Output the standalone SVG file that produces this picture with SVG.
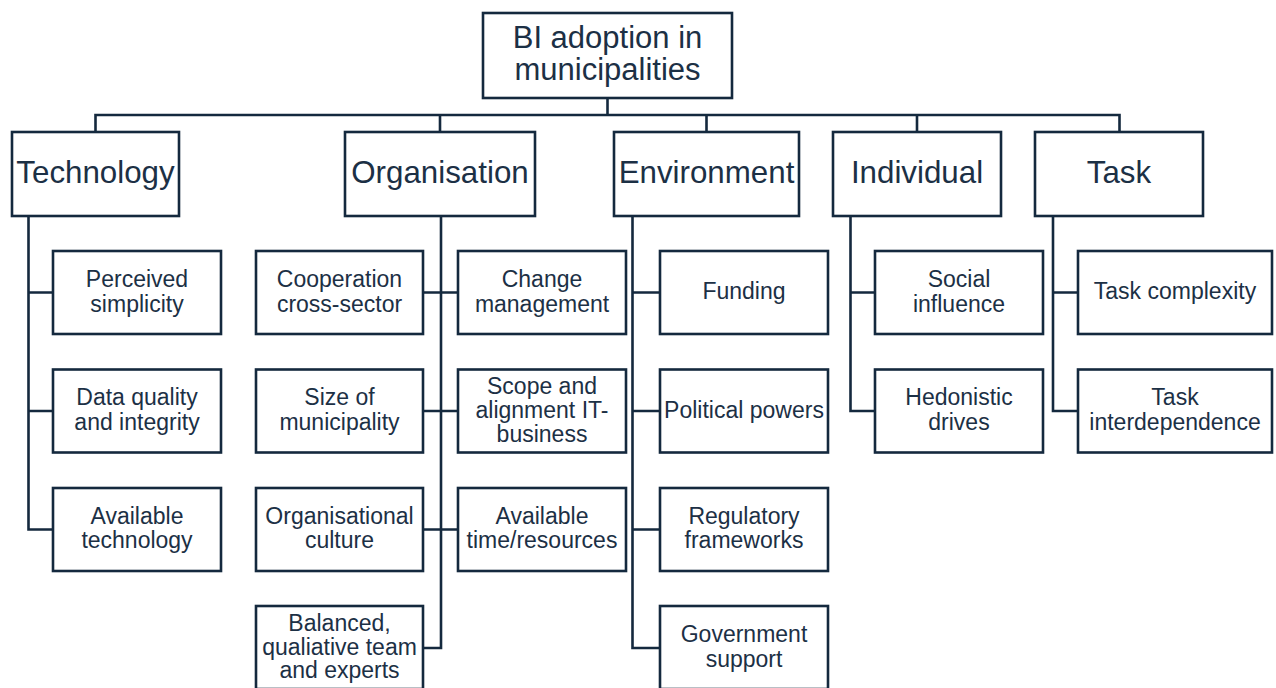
<svg xmlns="http://www.w3.org/2000/svg" width="1276" height="688" viewBox="0 0 1276 688">
  <style>
    .box { fill: #ffffff; stroke: #14293e; stroke-width: 2.6; }
    .link { fill: none; stroke: #14293e; stroke-width: 2.6; stroke-linejoin: miter; }
    text { font-family: "Liberation Sans", Arial, sans-serif; fill: #1c3045; text-anchor: middle; }
    .root { font-size: 31px; }
    .cat { font-size: 31.3px; }
    .leaf { font-size: 23px; }
  </style>
  <rect width="1276" height="688" fill="#ffffff"/>

  <!-- connectors -->
  <g id="connectors">
    <!-- root to bus -->
    <path class="link" d="M607.5,98 V115"/>
    <path class="link" d="M95.5,132 V115 H1119.5 V132"/>
    <path class="link" d="M440,115 V132 M706.5,115 V132 M917,115 V132"/>
    <!-- Technology column -->
    <path class="link" d="M28.5,216 V529.5 H53 M28.5,292.5 H53 M28.5,411 H53"/>
    <!-- Organisation column -->
    <path class="link" d="M441,216 V648 H423 M423,292.5 H458 M423,411 H458 M423,529.5 H458"/>
    <!-- Environment column -->
    <path class="link" d="M632.5,216 V648 H660 M632.5,292.5 H660 M632.5,411 H660 M632.5,529.5 H660"/>
    <!-- Individual column -->
    <path class="link" d="M850.5,216 V411 H875 M850.5,292.5 H875"/>
    <!-- Task column -->
    <path class="link" d="M1053,216 V411 H1078 M1053,292.5 H1078"/>
  </g>

  <!-- root -->
  <g id="root">
    <rect class="box" x="483" y="13" width="249" height="85"/>
    <text class="root" x="607.5" y="48">BI adoption in</text>
    <text class="root" x="607.5" y="80">municipalities</text>
  </g>

  <!-- categories -->
  <g id="technology">
    <rect class="box" x="12" y="132" width="167" height="84"/>
    <text class="cat" x="95.5" y="183">Technology</text>
  </g>
  <g id="organisation">
    <rect class="box" x="345" y="132" width="190" height="84"/>
    <text class="cat" x="440" y="183">Organisation</text>
  </g>
  <g id="environment">
    <rect class="box" x="614" y="132" width="185" height="84"/>
    <text class="cat" x="706.5" y="183">Environment</text>
  </g>
  <g id="individual">
    <rect class="box" x="833" y="132" width="168" height="84"/>
    <text class="cat" x="917" y="183">Individual</text>
  </g>
  <g id="task">
    <rect class="box" x="1035" y="132" width="168" height="84"/>
    <text class="cat" x="1119" y="183">Task</text>
  </g>

  <!-- Technology factors -->
  <g id="perceived-simplicity">
    <rect class="box" x="53" y="251" width="168" height="83"/>
    <text class="leaf" x="137" y="287">Perceived</text>
    <text class="leaf" x="137" y="311.5">simplicity</text>
  </g>
  <g id="data-quality">
    <rect class="box" x="53" y="369.5" width="168" height="83"/>
    <text class="leaf" x="137" y="405">Data quality</text>
    <text class="leaf" x="137" y="429.5">and integrity</text>
  </g>
  <g id="available-technology">
    <rect class="box" x="53" y="488" width="168" height="83"/>
    <text class="leaf" x="137" y="523.5">Available</text>
    <text class="leaf" x="137" y="548">technology</text>
  </g>

  <!-- Organisation factors -->
  <g id="cooperation">
    <rect class="box" x="256" y="251" width="167" height="83"/>
    <text class="leaf" x="339.5" y="287">Cooperation</text>
    <text class="leaf" x="339.5" y="311.5">cross-sector</text>
  </g>
  <g id="change-management">
    <rect class="box" x="458" y="251" width="168" height="83"/>
    <text class="leaf" x="542" y="287">Change</text>
    <text class="leaf" x="542" y="311.5">management</text>
  </g>
  <g id="size-of-municipality">
    <rect class="box" x="256" y="369.5" width="167" height="83"/>
    <text class="leaf" x="339.5" y="405">Size of</text>
    <text class="leaf" x="339.5" y="429.5">municipality</text>
  </g>
  <g id="scope-alignment">
    <rect class="box" x="458" y="369.5" width="168" height="83"/>
    <text class="leaf" x="542" y="394">Scope and</text>
    <text class="leaf" x="542" y="418">alignment IT-</text>
    <text class="leaf" x="542" y="441.5">business</text>
  </g>
  <g id="organisational-culture">
    <rect class="box" x="256" y="488" width="167" height="83"/>
    <text class="leaf" x="339.5" y="523.5">Organisational</text>
    <text class="leaf" x="339.5" y="548">culture</text>
  </g>
  <g id="available-time">
    <rect class="box" x="458" y="488" width="168" height="83"/>
    <text class="leaf" x="542" y="523.5">Available</text>
    <text class="leaf" x="542" y="548">time/resources</text>
  </g>
  <g id="balanced-team">
    <rect class="box" x="256" y="606" width="167" height="83"/>
    <text class="leaf" x="339.5" y="630.5">Balanced,</text>
    <text class="leaf" x="339.5" y="654.5">qualiative team</text>
    <text class="leaf" x="339.5" y="678">and experts</text>
  </g>

  <!-- Environment factors -->
  <g id="funding">
    <rect class="box" x="660" y="251" width="168" height="83"/>
    <text class="leaf" x="744" y="299">Funding</text>
  </g>
  <g id="political-powers">
    <rect class="box" x="660" y="369.5" width="168" height="83"/>
    <text class="leaf" x="744" y="418">Political powers</text>
  </g>
  <g id="regulatory-frameworks">
    <rect class="box" x="660" y="488" width="168" height="83"/>
    <text class="leaf" x="744" y="523.5">Regulatory</text>
    <text class="leaf" x="744" y="548">frameworks</text>
  </g>
  <g id="government-support">
    <rect class="box" x="660" y="606" width="168" height="83"/>
    <text class="leaf" x="744" y="642">Government</text>
    <text class="leaf" x="744" y="666.5">support</text>
  </g>

  <!-- Individual factors -->
  <g id="social-influence">
    <rect class="box" x="875" y="251" width="168" height="83"/>
    <text class="leaf" x="959" y="287">Social</text>
    <text class="leaf" x="959" y="311.5">influence</text>
  </g>
  <g id="hedonistic-drives">
    <rect class="box" x="875" y="369.5" width="168" height="83"/>
    <text class="leaf" x="959" y="405">Hedonistic</text>
    <text class="leaf" x="959" y="429.5">drives</text>
  </g>

  <!-- Task factors -->
  <g id="task-complexity">
    <rect class="box" x="1078" y="251" width="194" height="83"/>
    <text class="leaf" x="1175" y="299">Task complexity</text>
  </g>
  <g id="task-interdependence">
    <rect class="box" x="1078" y="369.5" width="194" height="83"/>
    <text class="leaf" x="1175" y="405">Task</text>
    <text class="leaf" x="1175" y="429.5">interdependence</text>
  </g>
</svg>
